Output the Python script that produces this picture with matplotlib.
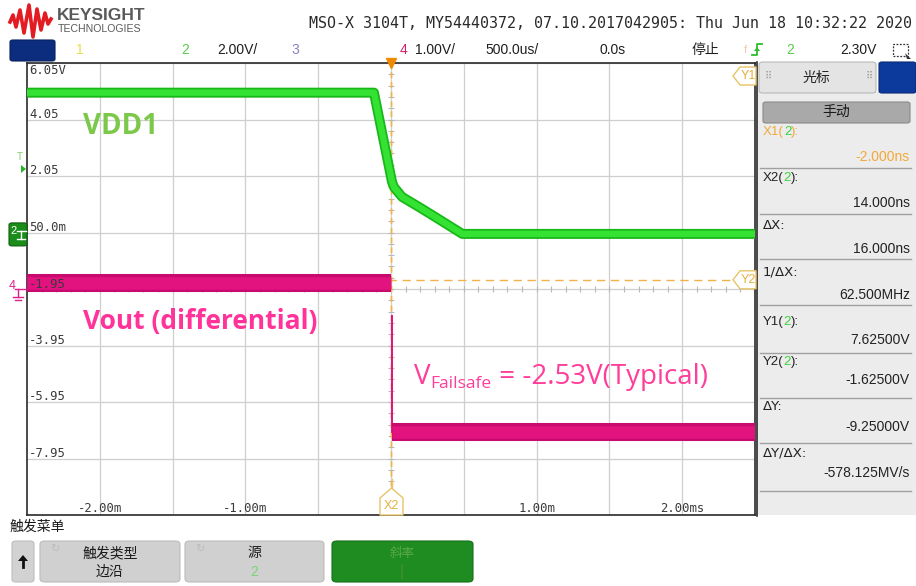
import matplotlib
matplotlib.use("Agg")
import matplotlib.pyplot as plt
from matplotlib.patches import Polygon, FancyBboxPatch, Rectangle
from matplotlib.lines import Line2D

# ---------------- data ----------------
# time axis (ms) and screen scale
time_div_ms = 0.5
x_tick_vals = [-2.0, -1.0, 1.0, 2.0]
x_tick_labels = ["-2.00m", "-1.00m", "1.00m", "2.00ms"]
y_grid_vals = [6.05, 4.05, 2.05, 0.05, -1.95, -3.95, -5.95, -7.95]
y_grid_labels = ["6.05V", "4.05", "2.05", "50.0m", "-1.95", "-3.95", "-5.95", "-7.95"]

# Channel 2 (VDD1), 2.00 V/div, volts
vdd1_t = [-2.5, -0.117, 0.007, 0.02, 0.076, 0.19, 0.31, 0.49, 2.5]
vdd1_v = [5.0, 5.0, 1.84, 1.66, 1.31, 0.96, 0.58, 0.0, 0.0]

# Channel 4 (Vout differential), 1.00 V/div, volts
vout_pre_t = [-2.5, 0.0]
vout_pre_v = [0.1, 0.1]
vout_edge_t = [0.007, 0.007]
vout_edge_v = [-0.47, -2.53]
vout_post_t = [0.007, 2.5]
vout_post_v = [-2.53, -2.53]
ch2_scale, ch2_center = 2.0, -1.95   # V/div, volts at screen centre
ch4_scale, ch4_center = 1.0, 0.0

# cursors
x1_ns, x2_ns = -2.0, 14.0
y1_v, y2_v = 7.625, -1.625
trig_level = 2.30

panel_rows = [("X1(2):", "-2.000ns"), ("X2(2):", "14.000ns"), ("ΔX:", "16.000ns"),
              ("1/ΔX:", "62.500MHz"), ("Y1(2):", "7.62500V"), ("Y2(2):", "-1.62500V"),
              ("ΔY:", "-9.25000V"), ("ΔY/ΔX:", "-578.125MV/s")]

# ---------------- figure ----------------
W, H = 916, 586
fig = plt.figure(figsize=(W / 100, H / 100), dpi=100)
fig.patch.set_facecolor("white")
R = fig.canvas.get_renderer()
CJK = ["Noto Sans CJK SC", "DejaVu Sans"]
SANS = ["Liberation Sans", "DejaVu Sans"]
MONO = "DejaVu Sans Mono"


def P(x, y):
    return (x / W, 1 - y / H)


def T(x, y, s, **kw):
    return fig.text(x / W, 1 - y / H, s, **kw)


def seq(x, y, pieces, **kw):
    for s, c in pieces:
        t = T(x, y, s, color=c, **kw)
        x += t.get_window_extent(R).width
    return x


def poly(pts, **kw):
    p = Polygon([P(*q) for q in pts], closed=True, transform=fig.transFigure, **kw)
    fig.add_artist(p)
    return p


def box(x0, y0, x1, y1, r=3, **kw):
    b = FancyBboxPatch(P(x0, y1), (x1 - x0) / W, (y1 - y0) / H,
                       boxstyle=f"round,pad=0,rounding_size={r / W}",
                       transform=fig.transFigure, **kw)
    fig.add_artist(b)
    return b


def line(xs, ys, **kw):
    fig.add_artist(Line2D([x / W for x in xs], [1 - y / H for y in ys],
                          transform=fig.transFigure, **kw))


# ---------------- main scope screen ----------------
L, Rx, Tp, Bt = 27, 755, 63, 515
ax = fig.add_axes([L / W, 1 - Bt / H, (Rx - L) / W, (Bt - Tp) / H])
ax.set_xlim(-5 * time_div_ms, 5 * time_div_ms)
ax.set_ylim(ch2_center - 4 * ch2_scale, ch2_center + 4 * ch2_scale)
ax.set_xticks([])
ax.set_yticks([])
for s in ax.spines.values():
    s.set_color("#2a2a2a")
    s.set_linewidth(1.2)

for i in range(-4, 5):
    ax.axvline(i * time_div_ms, color="#cfcfcf", lw=0.9, zorder=1)
for v in y_grid_vals:
    ax.axhline(v, color="#cfcfcf", lw=0.9, zorder=1)
# crosshair minor ticks
mt = [ch2_center - 4 * ch2_scale + k * ch2_scale / 5 for k in range(41)]
ax.plot([0] * len(mt), mt, ls="none", marker="_", ms=5, color="#b8b8b8", mew=0.8, zorder=1)
mx = [-2.5 + k * time_div_ms / 5 for k in range(51)]
ax.plot(mx, [ch2_center] * len(mx), ls="none", marker="|", ms=5, color="#b8b8b8", mew=0.8, zorder=1)

# y labels (screen text)
for v, lab in zip(y_grid_vals, y_grid_labels):
    ypix = Tp + (y_grid_vals[0] - v) / ch2_scale * (Bt - Tp) / 8
    ypix = ypix - 5 if v != y_grid_vals[0] else Tp + 8
    T(29, ypix, lab, fontsize=8.8, family=MONO, color="#3a3a3a", va="center", zorder=2)
for v, lab in zip(x_tick_vals, x_tick_labels):
    xpix = L + (v + 2.5) / 5 * (Rx - L)
    T(xpix, 509, lab, fontsize=8.8, family=MONO, color="#3a3a3a", ha="center", va="center")

# cursors
ax.axvline(x2_ns * 1e-6, color="#f2b24a", lw=1.0, ls=(0, (4, 3)), zorder=2)
ax.axvline(x1_ns * 1e-6, color="#f2b24a", lw=1.0, ls=(0, (4, 3)), zorder=2)
ax.axhline(y2_v, color="#f2b24a", lw=1.0, ls=(0, (6, 4)), zorder=2)

# traces
ax.plot(vdd1_t, vdd1_v, color="#19b819", lw=7.2, solid_joinstyle="round", zorder=4)
ax.plot(vdd1_t, vdd1_v, color="#33e233", lw=4.6, solid_joinstyle="round", zorder=4)


def ch4(v):
    return [ch2_center + x * ch2_scale / ch4_scale for x in v]


ax.plot(vout_pre_t, ch4(vout_pre_v), color="#c80a6e", lw=13, solid_capstyle="butt", zorder=3)
ax.plot(vout_pre_t, ch4(vout_pre_v), color="#e2127f", lw=9, solid_capstyle="butt", zorder=3)
ax.plot(vout_edge_t, ch4(vout_edge_v), color="#e2127f", lw=1.4, zorder=3)
ax.plot(vout_post_t, ch4(vout_post_v), color="#c80a6e", lw=13, solid_capstyle="butt", zorder=3)
ax.plot(vout_post_t, ch4(vout_post_v), color="#e2127f", lw=9, solid_capstyle="butt", zorder=3)

# trigger position marker
ax.plot([0], [ch2_center + 4 * ch2_scale], marker="v", ms=7, color="#f08a00", clip_on=False, zorder=6)

# cursor tags
poly([(733, 76), (740, 67), (756, 67), (756, 85), (740, 85)], fc="white", ec="#e8c468", lw=1, zorder=7)
T(748, 76, "Y1", fontsize=9, family=SANS, color="#e2b040", ha="center", va="center", zorder=8)
y2pix = Tp + (ch2_center + 4 * ch2_scale - y2_v) / ch2_scale * (Bt - Tp) / 8
poly([(733, y2pix), (740, y2pix - 9), (756, y2pix - 9), (756, y2pix + 9), (740, y2pix + 9)],
     fc="white", ec="#e8c468", lw=1, zorder=7)
T(748, y2pix, "Y2", fontsize=9, family=SANS, color="#e2b040", ha="center", va="center", zorder=8)
poly([(380, 515), (380, 498), (391.5, 488), (403, 498), (403, 515)], fc="white", ec="#e8c468", lw=1, zorder=7)
line([391.5, 391.5], [479, 488], color="#e8c468", lw=1)
T(391.5, 506, "X2", fontsize=9, family=SANS, color="#e2b040", ha="center", va="center", zorder=8)

# annotations
T(83, 126, "VDD1", fontsize=20, family="Open Sans", weight="bold", color="#7cc84a", va="center")
T(83, 322, "Vout (differential)", fontsize=19, family="Open Sans", weight="bold", color="#ff3399", va="center")
x = 414
t = T(x, 384, "V", fontsize=20, family="Open Sans", color="#ff3d9a", va="baseline")
x += t.get_window_extent(R).width
t = T(x, 388, "Failsafe", fontsize=12.5, family="Open Sans", color="#ff3d9a", va="baseline")
x += t.get_window_extent(R).width
T(x, 384, " = -2.53V(Typical)", fontsize=20, family="Open Sans", color="#ff3d9a", va="baseline")

# left-side markers
T(20, 157, "T", fontsize=7, family=SANS, color="#7cd36a", ha="center", va="center")
tpix = Tp + (ch2_center + 4 * ch2_scale - trig_level) / ch2_scale * (Bt - Tp) / 8
poly([(21, tpix - 4), (26, tpix), (21, tpix + 4)], fc="#29b529", ec="none")
g0 = Tp + (ch2_center + 4 * ch2_scale - 0.0) / ch2_scale * (Bt - Tp) / 8
box(9, g0 - 11, 27, g0 + 12, r=3, fc="#1a8c1a", ec="#0e5e0e", lw=0.8)
T(14, g0 - 3, "2", fontsize=8, family=SANS, color="white", ha="center", va="center")
line([17, 26], [g0 - 3, g0 - 3], color="white", lw=1)
line([21, 21], [g0 - 3, g0 + 5], color="white", lw=1)
line([17, 25], [g0 + 5, g0 + 5], color="white", lw=1)
g4 = Tp + 4 * (Bt - Tp) / 8
T(12, g4 - 3, "4", fontsize=9, family=SANS, color="#e0208a", ha="center", va="center")
line([15, 26], [g4, g4], color="#e0208a", lw=1)
line([18, 18], [g4, g4 + 8], color="#e0208a", lw=1)
line([13, 23], [g4 + 8, g4 + 8], color="#e0208a", lw=1)
line([15, 21], [g4 + 11, g4 + 11], color="#e0208a", lw=1)

# ---------------- header ----------------
logo = [(10, 22), (13, 15), (16, 27), (20, 10), (24, 33), (29, 5), (33, 37), (37, 9), (41, 30), (45, 13), (48, 24), (51, 19)]
line([p[0] for p in logo], [p[1] for p in logo], color="#e31b23", lw=2.6, solid_joinstyle="round")
T(57, 15, "KEYSIGHT", fontsize=12.5, family=SANS, weight="bold", color="#5a5a5a", va="center")
T(58, 29, "TECHNOLOGIES", fontsize=7.6, family=SANS, color="#5a5a5a", va="center")
T(912, 24, "MSO-X 3104T, MY54440372, 07.10.2017042905: Thu Jun 18 10:32:22 2020",
  fontsize=10.8, family=MONO, color="#2a2a2a", va="center", ha="right")

box(10, 40, 55, 61, r=3, fc="#0c2d7e", ec="#081f5c", lw=0.8)
hy = 50
T(76, hy, "1", fontsize=10, family=SANS, color="#e6e04a", va="center")
T(181, hy, "2", fontsize=10, family=SANS, color="#58cc4a", va="center")
T(217, hy, "2.00V/", fontsize=10, family=SANS, color="#1e1e1e", va="center")
T(291, hy, "3", fontsize=10, family=SANS, color="#8a80c4", va="center")
T(400, hy, "4", fontsize=10, family=SANS, color="#d0206a", va="center")
T(415, hy, "1.00V/", fontsize=10, family=SANS, color="#1e1e1e", va="center")
T(485, hy, "500.0us/", fontsize=10, family=SANS, color="#1e1e1e", va="center")
T(600, hy, "0.0s", fontsize=10, family=SANS, color="#1e1e1e", va="center")
T(692, hy, "停止", fontsize=10, family=CJK, color="#1e1e1e", va="center")
T(744, hy, "f", fontsize=8, family=SANS, color="#f7c7a0", va="center")
line([752, 757, 757, 762], [55, 55, 44, 44], color="#2bbf2b", lw=1.3)
poly([(754, 51), (757, 47), (760, 51)], fc="#2bbf2b", ec="none")
T(786, hy, "2", fontsize=10, family=SANS, color="#58cc4a", va="center")
T(840, hy, "2.30V", fontsize=10, family=SANS, color="#1e1e1e", va="center")
fig.add_artist(Rectangle(P(893, 56), 15 / W, 12 / H, transform=fig.transFigure, fill=False,
                         ec="#333333", lw=0.9, ls=(0, (1.5, 1.2))))
poly([(905, 53), (911, 59), (907, 59)], fc="#333333", ec="none")

# ---------------- right panel ----------------
fig.add_artist(Rectangle(P(757, 515), (916 - 757) / W, (515 - 92) / H, transform=fig.transFigure,
                         fc="#ececec", ec="none"))
line([757, 757], [62, 516], color="#2a2a2a", lw=1.2)
box(759, 62, 876, 93, r=4, fc="#e4e4e4", ec="#b8b8b8", lw=0.8)
T(765, 76, "⠿", fontsize=7, family="DejaVu Sans", color="#999999", va="center")
T(866, 76, "⠿", fontsize=7, family="DejaVu Sans", color="#999999", va="center")
T(816, 78, "光标", fontsize=10, family=CJK, color="#222222", ha="center", va="center")
box(879, 62, 916, 93, r=3, fc="#0c3a9c", ec="#082a74", lw=0.8)
box(763, 102, 910, 123, r=3, fc="#a9a9a9", ec="#8a8a8a", lw=0.8)
T(836, 112, "手动", fontsize=10, family=CJK, color="#1a1a1a", ha="center", va="center")

lab_y = [132, 178, 225, 272, 322, 362, 407, 453]
val_y = [157, 203, 249, 295, 340, 380, 427, 473]
sep_y = [168, 214, 259, 305, 353, 398, 443, 491]
for i, (lab, val) in enumerate(panel_rows):
    if "(2)" in lab:
        head = lab.split("(")[0]
        c = "#f2a93a" if i == 0 else "#222222"
        seq(763, lab_y[i], [(head + "(", c), ("2", "#3bd23b"), ("):", c)],
            fontsize=9.5, family=SANS, va="center")
    else:
        T(763, lab_y[i], lab, fontsize=9.5, family=["DejaVu Sans"], color="#222222", va="center")
    T(910, val_y[i], val, fontsize=10, family=SANS,
      color="#f2a93a" if i == 0 else "#222222", ha="right", va="center")
    line([760, 911], [sep_y[i], sep_y[i]], color="#a0a0a0", lw=1.0)

# ---------------- bottom menu ----------------
T(10, 527, "触发菜单", fontsize=10, family=CJK, color="#1a1a1a", va="center")
box(12, 541, 34, 582, r=4, fc="#d2d2d2", ec="#bdbdbd", lw=0.8)
poly([(18, 561), (23, 555), (28, 561)], fc="#111111", ec="none")
line([23, 23], [559, 567], color="#111111", lw=2)
for x0, x1, top, bot, bc in [(40, 180, "触发类型", "边沿", "#1a1a1a"), (185, 324, "源", "2", "#7ad47a")]:
    box(x0, 541, x1, 582, r=5, fc="#d0d0d0", ec="#bcbcbc", lw=0.8)
    T(x0 + 10, 549, "↻", fontsize=8, family="DejaVu Sans", color="#bdbdbd", va="center")
    T((x0 + x1) / 2, 553, top, fontsize=10, family=CJK, color="#1a1a1a", ha="center", va="center")
    T((x0 + x1) / 2, 572, bot, fontsize=10, family=CJK if bc == "#1a1a1a" else SANS,
      color=bc, ha="center", va="center")
box(332, 541, 473, 582, r=5, fc="#1f8c22", ec="#167018", lw=0.8)
T(402, 553, "斜率", fontsize=9, family=CJK, color="#5aa84a", ha="center", va="center")
line([402, 402], [565, 578], color="#3f8f2f", lw=1.2)

fig.savefig("out.png", dpi=100)
